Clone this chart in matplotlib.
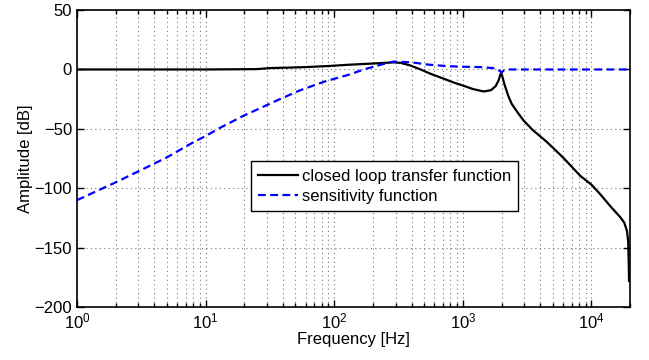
import matplotlib.pyplot as plt
import numpy as np

plt.rcParams['font.family'] = ['Liberation Sans', 'DejaVu Sans']

# closed loop transfer function
freq_t = [1, 10, 25, 32, 45, 60, 93, 130, 200, 290, 330, 390, 470, 560, 700,
          850, 1000, 1200, 1450, 1650, 1800, 1900, 1960, 2000, 2100, 2250,
          2400, 2700, 2970, 3500, 4500, 6000, 8200, 10000, 11700, 14000,
          16800, 18000, 18900, 19300, 19500, 19600]
amp_t = [0, 0, 0.3, 1.2, 1.6, 2, 3, 4, 5, 6, 5.5, 3.4, 0, -3.6, -7.5,
         -11, -13.5, -16.5, -18.5, -17.5, -14, -9, -4, -3.5, -12, -22,
         -29, -37, -43, -51, -61, -74, -89.6, -97, -105, -115,
         -124.5, -129, -136, -145, -165, -178]

# sensitivity function
freq_s = [1, 2, 3.2, 5, 7.6, 10, 13, 19.7, 36, 54, 85, 129, 170, 230, 290,
          400, 550, 760, 1000, 1370, 1800, 1950, 2000, 2100, 2300, 3000,
          10000, 20000]
amp_s = [-110, -95, -84.3, -74, -62.7, -56, -49, -39, -26, -17.6, -10, -4.5,
         0, 4, 6.7, 6, 4, 2.8, 2.3, 2, 1, -1.5, -2.5, -0.5, 0, 0, 0, 0]

fig = plt.figure(figsize=(6.49, 3.6), dpi=100)
ax = fig.add_axes([0.1186, 0.147, 0.8524, 0.825])

ax.semilogx(freq_t, amp_t, 'k-', lw=1.6, label='closed loop transfer function')
ax.semilogx(freq_s, amp_s, color='#0000ff', ls=(0, (3.5, 2)), lw=1.6,
            label='sensitivity function')

ax.set_xlim(1, 2e4)
ax.set_ylim(-200, 50)
ax.set_yticks([-200, -150, -100, -50, 0, 50])
ax.set_xlabel('Frequency [Hz]', fontsize=12, labelpad=0)
ax.set_ylabel('Amplitude [dB]', fontsize=12, labelpad=1)

# matlab-like grid, sparse dots
ax.grid(True, which='major', ls=(0, (1, 3)), color='#777777', lw=0.8)
ax.grid(True, which='minor', axis='x', ls=(0, (1, 3)), color='#777777', lw=0.8)
ax.tick_params(which='both', direction='in', top=True, right=True,
               labelsize=12, width=1)
ax.tick_params(which='major', length=5)
ax.tick_params(which='minor', length=3)
for s in ax.spines.values():
    s.set_linewidth(1.2)

leg = ax.legend(loc='lower left', bbox_to_anchor=(0.314, 0.323),
                fontsize=12, fancybox=False, framealpha=1, edgecolor='k',
                handlelength=2.4, handletextpad=0.2, borderpad=0.45,
                labelspacing=0.3, borderaxespad=0)
leg.get_frame().set_linewidth(1.0)

plt.savefig('out.png', dpi=100)
plt.close()
